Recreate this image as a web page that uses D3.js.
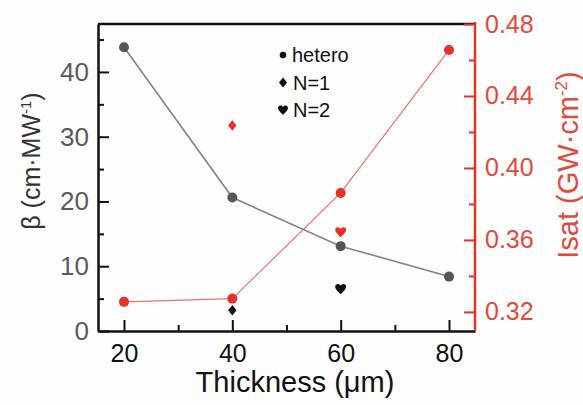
<!DOCTYPE html>
<html>
<head>
<meta charset="utf-8">
<script src="https://cdn.jsdelivr.net/npm/d3@7"></script>
<style>
  body { margin: 0; background: #fdfdfd; }
  svg { display: block; font-family: "Liberation Sans", Arial, Helvetica, sans-serif; }
</style>
</head>
<body>
<svg id="chart"></svg>
<script>
// data
const thickness = [20, 40, 60, 80]
const betaHetero = [43.8, 20.6, 13.1, 8.4]
const isatHetero = [0.3256, 0.3274, 0.3861, 0.4656]
const n1 = { thickness: 40, beta: 3.2, isat: 0.4236 }
const n2 = { thickness: 60, beta: 6.5, isat: 0.3644 }
const xTicks = [20, 40, 60, 80]
const xMinor = [30, 50, 70]
const betaTicks = [0, 10, 20, 30, 40]
const betaMinor = [5, 15, 25, 35, 45]
const isatTicks = [0.32, 0.36, 0.40, 0.44, 0.48]
const isatMinor = [0.34, 0.38, 0.42, 0.46]
const legendItems = [
    { label: "hetero", shape: "circle" },
    { label: "N=1", shape: "diamond" },
    { label: "N=2", shape: "heart" }
]

const config = {
    width: 583, height: 405,
    left: 98, right: 475, top: 24, bottom: 331,
    black: "#111", gray: "#555", grayLine: "#8a8080",
    red: "#e6302a", redText: "#e04a3c", redLine: "#e87468"
}

const svg = d3.select("#chart")
    .attr("width", config.width)
    .attr("height", config.height)

const x = d3.scaleLinear().domain([15.2, 84.8]).range([config.left, config.right])
const yBeta = d3.scaleLinear().domain([0, 47.4]).range([config.bottom, config.top])
const yIsat = d3.scaleLinear().domain([0.3094, 0.48]).range([config.bottom, config.top])

const diamondPath = function (w, h) {
    return `M0,${-h}L${w},0L0,${h}L${-w},0Z`
}
const heartPath = function (s) {
    return `M0,${s * 0.5}C${-s * 0.1},${s * 0.35} ${-s * 0.5},${s * 0.05} ${-s * 0.5},${-s * 0.2}` +
        `C${-s * 0.5},${-s * 0.45} ${-s * 0.2},${-s * 0.55} 0,${-s * 0.3}` +
        `C${s * 0.2},${-s * 0.55} ${s * 0.5},${-s * 0.45} ${s * 0.5},${-s * 0.2}` +
        `C${s * 0.5},${s * 0.05} ${s * 0.1},${s * 0.35} 0,${s * 0.5}Z`
}

// top frame line
svg.append("line")
    .attr("x1", config.left).attr("x2", config.right)
    .attr("y1", config.top).attr("y2", config.top)
    .style("stroke", config.black).style("stroke-width", 2.5)

const styleAxis = function (g, color, width) {
    g.select(".domain").style("stroke", color).style("stroke-width", width)
    g.selectAll(".tick line").style("stroke", color).style("stroke-width", 2)
}

// bottom axis
const gx = svg.append("g").attr("transform", `translate(0,${config.bottom})`)
    .call(d3.axisBottom(x).tickValues(xTicks).tickSizeInner(-11).tickSizeOuter(0).tickPadding(13))
styleAxis(gx, config.black, 2.5)
gx.selectAll("text").style("font-size", "25px").style("fill", config.black)
svg.append("g").attr("transform", `translate(0,${config.bottom})`)
    .call(d3.axisBottom(x).tickValues(xMinor).tickSize(-6).tickFormat(""))
    .call(g => g.select(".domain").remove())
    .call(g => g.selectAll("line").style("stroke", config.black).style("stroke-width", 2))

// left axis
const gy = svg.append("g").attr("transform", `translate(${config.left},0)`)
    .call(d3.axisLeft(yBeta).tickValues(betaTicks).tickSizeInner(-11).tickSizeOuter(0).tickPadding(9))
styleAxis(gy, config.black, 2.5)
gy.selectAll("text").style("font-size", "26px").style("fill", "#5a5a5a")
svg.append("g").attr("transform", `translate(${config.left},0)`)
    .call(d3.axisLeft(yBeta).tickValues(betaMinor).tickSize(-6).tickFormat(""))
    .call(g => g.select(".domain").remove())
    .call(g => g.selectAll("line").style("stroke", config.black).style("stroke-width", 2))

// right axis
const gr = svg.append("g").attr("transform", `translate(${config.right},0)`)
    .call(d3.axisRight(yIsat).tickValues(isatTicks).tickSizeInner(-11).tickSizeOuter(0).tickPadding(10)
        .tickFormat(d3.format(".2f")))
styleAxis(gr, config.red, 2.5)
gr.select(".domain").attr("d", `M0,${config.top - 2}V${config.bottom}`)
gr.selectAll("text").style("font-size", "25px").style("fill", config.redText)
svg.append("g").attr("transform", `translate(${config.right},0)`)
    .call(d3.axisRight(yIsat).tickValues(isatMinor).tickSize(-6).tickFormat(""))
    .call(g => g.select(".domain").remove())
    .call(g => g.selectAll("line").style("stroke", config.red).style("stroke-width", 2))

// axis titles
svg.append("text")
    .attr("transform", `translate(40,161) rotate(-90)`)
    .attr("text-anchor", "middle")
    .style("font-size", "25px").style("fill", "#333")
    .html('β (cm·MW<tspan dy="-9" font-size="15">-1</tspan><tspan dy="9">)</tspan>')

svg.append("text")
    .attr("transform", `translate(578,165) rotate(-90)`)
    .attr("text-anchor", "middle")
    .style("font-size", "29px").style("fill", config.redText)
    .html('Isat (GW·cm<tspan dy="-11" font-size="17">-2</tspan><tspan dy="11">)</tspan>')

svg.append("text")
    .attr("x", 295).attr("y", 392)
    .attr("text-anchor", "middle")
    .style("font-size", "29px").style("fill", config.black)
    .text("Thickness (μm)")

// series
const lineBeta = d3.line().x((d, i) => x(thickness[i])).y(d => yBeta(d))
const lineIsat = d3.line().x((d, i) => x(thickness[i])).y(d => yIsat(d))

svg.append("path").datum(isatHetero)
    .attr("d", lineIsat)
    .style("fill", "none").style("stroke", config.redLine).style("stroke-width", 1.2)
svg.append("path").datum(betaHetero)
    .attr("d", lineBeta)
    .style("fill", "none").style("stroke", config.grayLine).style("stroke-width", 1.6)

svg.selectAll(".beta-dot").data(betaHetero).join("circle")
    .attr("cx", (d, i) => x(thickness[i])).attr("cy", d => yBeta(d))
    .attr("r", 5).style("fill", config.gray)
svg.selectAll(".isat-dot").data(isatHetero).join("circle")
    .attr("cx", (d, i) => x(thickness[i])).attr("cy", d => yIsat(d))
    .attr("r", 5).style("fill", config.red)

// N=1 diamonds
svg.append("path").attr("d", diamondPath(4.2, 5.2))
    .attr("transform", `translate(${x(n1.thickness)},${yBeta(n1.beta)})`).style("fill", config.black)
svg.append("path").attr("d", diamondPath(4.2, 5.2))
    .attr("transform", `translate(${x(n1.thickness)},${yIsat(n1.isat)})`).style("fill", config.red)

// N=2 hearts
svg.append("path").attr("d", heartPath(11))
    .attr("transform", `translate(${x(n2.thickness)},${yBeta(n2.beta)})`).style("fill", config.black)
svg.append("path").attr("d", heartPath(11))
    .attr("transform", `translate(${x(n2.thickness)},${yIsat(n2.isat)})`).style("fill", config.red)

// legend
const legend = svg.append("g").attr("transform", "translate(283,55)")
legendItems.forEach((item, i) => {
    const g = legend.append("g").attr("transform", `translate(0,${i * 27.5})`)
    if (item.shape === "circle") {
        g.append("circle").attr("r", 3.3).style("fill", config.black)
    } else if (item.shape === "diamond") {
        g.append("path").attr("d", diamondPath(4, 5)).style("fill", config.black)
    } else {
        g.append("path").attr("d", heartPath(10)).style("fill", config.black)
    }
    g.append("text").attr("x", i === 0 ? 9 : 10).attr("y", 7)
        .style("font-size", "20px").style("fill", config.black)
        .text(item.label)
})
</script>
</body>
</html>
